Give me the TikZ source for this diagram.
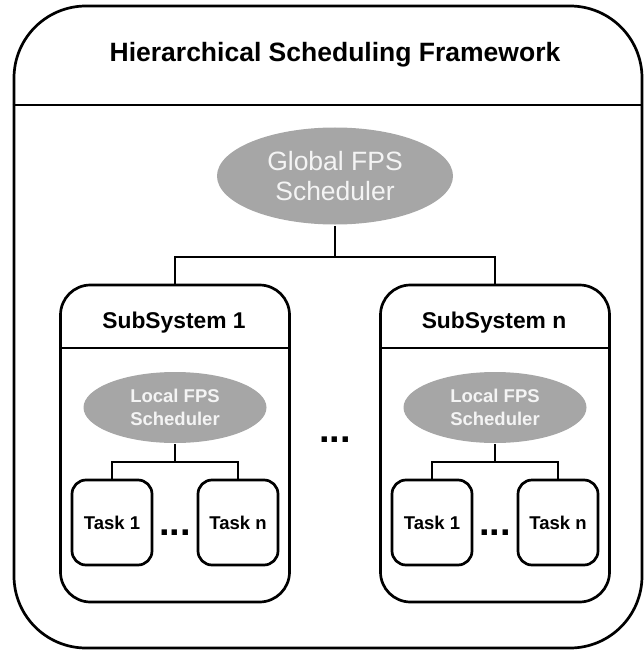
\documentclass[tikz,border=0pt]{standalone}
\usepackage{fontspec}
\usepackage{tikz}
\setmainfont{Liberation Sans}
\usetikzlibrary{shapes.geometric}
\definecolor{schedgray}{HTML}{A6A6A6}
\definecolor{schedtext}{HTML}{F4F4F4}

\begin{document}
\begin{tikzpicture}[x=1pt, y=-1pt, line width=2.7pt,
    frame/.style={draw, rounded corners=72pt, minimum width=628pt, minimum height=642pt, inner sep=0pt},
    subsys/.style={draw, rounded corners=30pt, minimum width=229pt, minimum height=317pt, inner sep=0pt},
    taskbox/.style={draw, rounded corners=14pt, minimum width=80pt, minimum height=85pt, inner sep=0pt, font=\fontsize{18.5}{22}\selectfont\bfseries},
    globalsched/.style={ellipse, fill=schedgray, minimum width=236pt, minimum height=97pt, text=schedtext, align=center, font=\fontsize{26.5}{30}\selectfont},
    localsched/.style={ellipse, fill=schedgray, minimum width=183pt, minimum height=71pt, text=schedtext, align=center, font=\fontsize{18.5}{23}\selectfont\bfseries},
    heading/.style={font=\fontsize{22.8}{26}\selectfont\bfseries},
    dotsep/.style={font=\fontsize{38}{40}\selectfont\bfseries}]

        \useasboundingbox (0,0) rectangle (644,650);

        % Nodes
        \node (frame) [frame] at (328,327) {};
        \node (title) [anchor=base, font=\fontsize{26.5}{30}\selectfont\bfseries] at (335,62) {Hierarchical Scheduling Framework};
        \coordinate (framehdr) at (0,105);
        \draw (frame.west |- framehdr) -- (frame.east |- framehdr);
        \node (global) [globalsched] at (335,176) {Global FPS\\Scheduler};
        \node (middots) [dotsep, anchor=base] at (335,442) {...};
        \coordinate (subhdr) at (0,348);

        % Subsystems
        \foreach \s/\x/\lbl in {ss1/175/1, ssn/495/n} {
            \node (\s) [subsys] at (\x,443.5) {};
            \node (\s title) [heading, anchor=base] at (\x-1,328) {SubSystem \lbl};
            \draw (\s.west |- subhdr) -- (\s.east |- subhdr);
            \node (\s local) [localsched] at (\x,407.5) {Local FPS\\Scheduler};
            \node (\s task1) [taskbox] at (\x-63,522.5) {Task 1};
            \node (\s taskn) [taskbox] at (\x+63,522.5) {Task n};
            \node (\s dots) [dotsep, anchor=base] at (\x,535) {...};
            \coordinate (\s join) at (\x,462);
            \draw (\s local.south) -- (\s join);
            \draw (\s task1.north) |- (\s join) -| (\s taskn.north);
        }

        % Connectors
        \coordinate (gjoin) at (335,257);
        \draw (global.south) -- (gjoin);
        \draw (ss1.north) |- (gjoin) -| (ssn.north);

\end{tikzpicture}
\end{document}
